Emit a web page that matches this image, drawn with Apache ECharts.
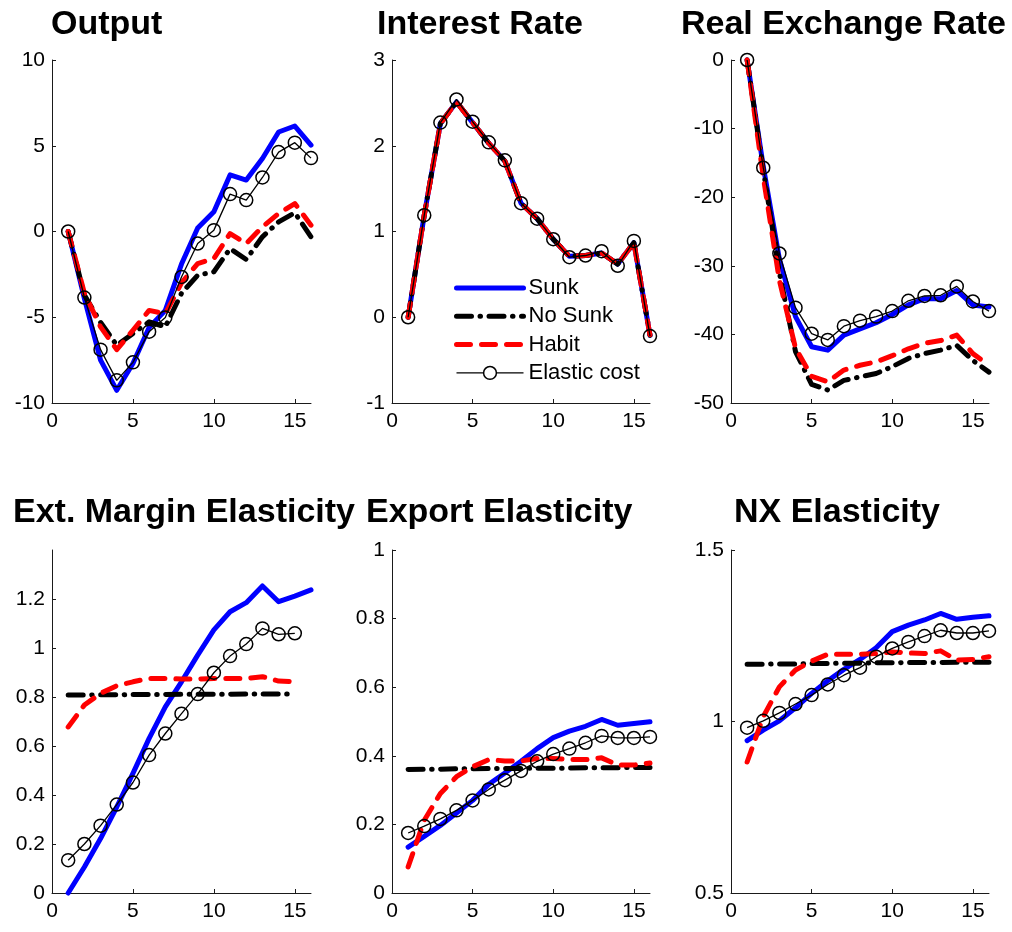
<!DOCTYPE html>
<html>
<head>
<meta charset="utf-8">
<script src="https://cdn.jsdelivr.net/npm/echarts@6/dist/echarts.min.js"></script>
<style>
  html, body { margin: 0; padding: 0; background: #fff; }
  #chart { width: 1012px; height: 932px; }
</style>
</head>
<body>
<div id="chart"></div>
<script>
// ---- data ----
const periods = [1, 2, 3, 4, 5, 6, 7, 8, 9, 10, 11, 12, 13, 14, 15, 16];
const modelNames = ['Sunk', 'No Sunk', 'Habit', 'Elastic cost'];
const panelTitles = ['Output', 'Interest Rate', 'Real Exchange Rate', 'Ext. Margin Elasticity', 'Export Elasticity', 'NX Elasticity'];

const outputSunk    = [0, -3.9, -7.5, -9.26, -7.7, -5.6, -4.6, -1.9, 0.2, 1.15, 3.3, 3.0, 4.26, 5.8, 6.15, 5.04];
const outputNoSunk  = [0, -3.7, -5.3, -6.63, -5.95, -5.27, -5.56, -3.6, -2.55, -2.35, -1.0, -1.63, -0.31, 0.56, 1.09, -0.31];
const outputHabit   = [0, -3.6, -5.56, -6.89, -5.76, -4.6, -4.8, -3.0, -1.87, -1.58, -0.12, -0.7, 0.27, 1.05, 1.63, 0.37];
const outputElastic = [0, -3.85, -6.89, -8.68, -7.63, -5.84, -5.02, -2.65, -0.70, 0.08, 2.18, 1.83, 3.15, 4.63, 5.18, 4.28];

const rateSunk    = [0, 1.19, 2.26, 2.51, 2.27, 2.03, 1.82, 1.33, 1.15, 0.91, 0.71, 0.72, 0.75, 0.62, 0.87, -0.21];
const rateNoSunk  = [0, 1.19, 2.26, 2.51, 2.27, 2.03, 1.82, 1.33, 1.15, 0.91, 0.71, 0.72, 0.75, 0.62, 0.87, -0.21];
const rateHabit   = [0, 1.19, 2.26, 2.51, 2.27, 2.03, 1.82, 1.33, 1.15, 0.91, 0.71, 0.72, 0.75, 0.62, 0.87, -0.21];
const rateElastic = [0, 1.19, 2.27, 2.54, 2.28, 2.04, 1.83, 1.33, 1.15, 0.91, 0.70, 0.72, 0.77, 0.60, 0.89, -0.22];

const rerSunk    = [0, -15.5, -29, -37.4, -41.8, -42.3, -40.1, -39.2, -38.3, -37.1, -35.7, -34.8, -34.8, -33.6, -35.7, -36.0];
const rerNoSunk  = [0, -16, -31, -42.5, -47.3, -48.1, -46.7, -46.2, -45.7, -44.7, -43.5, -42.8, -42.3, -41.6, -43.8, -45.5];
const rerHabit   = [0, -17, -32.1, -42, -46.1, -46.9, -45.2, -44.5, -44.0, -43.1, -42.1, -41.3, -40.9, -40.1, -42.8, -44.5];
const rerElastic = [0, -15.7, -28.2, -36.1, -39.9, -40.8, -38.8, -38.0, -37.4, -36.6, -35.1, -34.4, -34.3, -33.0, -35.2, -36.6];

const extSunk    = [0, 0.106, 0.222, 0.351, 0.488, 0.631, 0.760, 0.862, 0.971, 1.074, 1.148, 1.185, 1.253, 1.189, 1.212, 1.237];
const extNoSunk  = [0.808, 0.808, 0.809, 0.809, 0.810, 0.810, 0.810, 0.811, 0.811, 0.811, 0.811, 0.812, 0.812, 0.812, 0.812];
const extHabit   = [0.678, 0.767, 0.815, 0.846, 0.862, 0.876, 0.876, 0.873, 0.873, 0.876, 0.876, 0.876, 0.883, 0.865, 0.862];
const extElastic = [0.134, 0.200, 0.275, 0.361, 0.451, 0.563, 0.651, 0.732, 0.812, 0.899, 0.967, 1.016, 1.080, 1.056, 1.060];

const expSunk    = [0.134, 0.165, 0.197, 0.233, 0.270, 0.317, 0.350, 0.384, 0.421, 0.453, 0.472, 0.486, 0.506, 0.489, 0.494, 0.499];
const expNoSunk  = [0.360, 0.361, 0.361, 0.362, 0.362, 0.363, 0.363, 0.363, 0.364, 0.364, 0.364, 0.365, 0.365, 0.365, 0.366, 0.366];
const expHabit   = [0.076, 0.212, 0.290, 0.339, 0.368, 0.389, 0.385, 0.385, 0.392, 0.392, 0.389, 0.389, 0.394, 0.373, 0.373, 0.379];
const expElastic = [0.175, 0.195, 0.216, 0.241, 0.270, 0.302, 0.329, 0.356, 0.384, 0.405, 0.421, 0.438, 0.458, 0.452, 0.452, 0.455];

const nxSunk    = [0.944, 0.975, 1.002, 1.040, 1.082, 1.119, 1.152, 1.181, 1.215, 1.262, 1.281, 1.296, 1.315, 1.298, 1.304, 1.308];
const nxNoSunk  = [1.167, 1.167, 1.168, 1.168, 1.169, 1.169, 1.170, 1.170, 1.171, 1.171, 1.172, 1.172, 1.172, 1.173, 1.173, 1.173];
const nxHabit   = [0.882, 1.014, 1.101, 1.150, 1.176, 1.196, 1.196, 1.196, 1.198, 1.203, 1.200, 1.198, 1.206, 1.179, 1.181, 1.189];
const nxElastic = [0.982, 1.002, 1.025, 1.051, 1.077, 1.108, 1.135, 1.157, 1.189, 1.213, 1.232, 1.249, 1.266, 1.258, 1.258, 1.264];

const xTicks = [0, 5, 10, 15];
const yRanges = [
  { min: -10, max: 10, ticks: [-10, -5, 0, 5, 10] },
  { min: -1, max: 3, ticks: [-1, 0, 1, 2, 3] },
  { min: -50, max: 0, ticks: [-50, -40, -30, -20, -10, 0] },
  { min: 0, max: 1.4, ticks: [0, 0.2, 0.4, 0.6, 0.8, 1, 1.2] },
  { min: 0, max: 1, ticks: [0, 0.2, 0.4, 0.6, 0.8, 1] },
  { min: 0.5, max: 1.5, ticks: [0.5, 1, 1.5] }
];

const panelData = [
  [outputSunk, outputNoSunk, outputHabit, outputElastic],
  [rateSunk, rateNoSunk, rateHabit, rateElastic],
  [rerSunk, rerNoSunk, rerHabit, rerElastic],
  [extSunk, extNoSunk, extHabit, extElastic],
  [expSunk, expNoSunk, expHabit, expElastic],
  [nxSunk, nxNoSunk, nxHabit, nxElastic]
];

// ---- layout / style ----
const FONT = 'Liberation Sans, Arial, sans-serif';
const AXIS_COLOR = '#1a1a1a';
const grids = [
  { left: 52, top: 60, width: 259, height: 343 },
  { left: 392, top: 60, width: 258, height: 343 },
  { left: 731, top: 60, width: 258, height: 343 },
  { left: 52, top: 550, width: 259, height: 343 },
  { left: 392, top: 550, width: 258, height: 343 },
  { left: 731, top: 550, width: 258, height: 343 }
];
const titlePos = [
  { left: 51, top: 8 }, { left: 377, top: 8 }, { left: 681, top: 8 },
  { left: 13, top: 496 }, { left: 366, top: 496 }, { left: 734, top: 496 }
];

const lineStyles = [
  { color: '#0000ff', width: 5, type: 'solid', cap: 'round', join: 'round' },
  { color: '#000000', width: 5, type: [15, 8.5, 0.5, 8.5], cap: 'round', join: 'round' },
  { color: '#ff0000', width: 5, type: [14, 11], cap: 'round', join: 'round' },
  { color: '#000000', width: 1.3, type: 'solid' }
];

const option = {
  animation: false,
  backgroundColor: '#fff',
  textStyle: { fontFamily: FONT },
  title: panelTitles.map((t, i) => ({
    text: t,
    left: titlePos[i].left,
    top: titlePos[i].top,
    padding: 0,
    textStyle: { fontFamily: FONT, fontSize: 34, fontWeight: 'bold', color: '#000' }
  })),
  legend: {
    left: 454,
    top: 277,
    orient: 'vertical',
    padding: 0,
    itemWidth: 67,
    itemHeight: 16,
    itemGap: 6.3,
    textStyle: { fontFamily: FONT, fontSize: 22, color: '#000' },
    data: [
      { name: 'Sunk', lineStyle: { width: 5 }, itemStyle: { opacity: 0 } },
      { name: 'No Sunk', lineStyle: { width: 5 }, itemStyle: { opacity: 0 } },
      { name: 'Habit', lineStyle: { width: 5 }, itemStyle: { opacity: 0 } },
      { name: 'Elastic cost', lineStyle: { width: 1.3 }, itemStyle: { color: '#fff', borderColor: '#000', borderWidth: 1.5 } }
    ]
  },
  grid: grids.map(g => Object.assign({ containLabel: false }, g)),
  xAxis: grids.map((g, i) => ({
    type: 'value',
    gridIndex: i,
    min: 0,
    max: 16,
    axisLine: { show: true, onZero: false, lineStyle: { color: AXIS_COLOR, width: 1 } },
    axisTick: { show: true, inside: true, length: 4, customValues: xTicks, lineStyle: { color: AXIS_COLOR } },
    axisLabel: { customValues: xTicks, margin: 8, fontSize: 21, color: '#000', fontFamily: FONT },
    splitLine: { show: false }
  })),
  yAxis: grids.map((g, i) => ({
    type: 'value',
    gridIndex: i,
    min: yRanges[i].min,
    max: yRanges[i].max,
    axisLine: { show: true, onZero: false, lineStyle: { color: AXIS_COLOR, width: 1 } },
    axisTick: { show: true, inside: true, length: 4, customValues: yRanges[i].ticks, lineStyle: { color: AXIS_COLOR } },
    axisLabel: { customValues: yRanges[i].ticks, margin: 7, fontSize: 21, color: '#000', fontFamily: FONT },
    splitLine: { show: false }
  })),
  series: []
};

panelData.forEach((models, p) => {
  models.forEach((vals, m) => {
    const isElastic = m === 3;
    option.series.push({
      type: 'line',
      name: modelNames[m],
      xAxisIndex: p,
      yAxisIndex: p,
      data: vals.map((v, k) => [periods[k], v]),
      showSymbol: isElastic,
      symbol: isElastic ? 'circle' : 'none',
      symbolSize: 13,
      itemStyle: isElastic
        ? { color: 'rgba(0,0,0,0)', borderColor: '#000', borderWidth: 1.5 }
        : { color: lineStyles[m].color },
      lineStyle: lineStyles[m],
      emphasis: { disabled: true },
      silent: true,
      clip: false
    });
  });
});

const chart = echarts.init(document.getElementById('chart'), null, { renderer: 'canvas' });
chart.setOption(option);
</script>
</body>
</html>
